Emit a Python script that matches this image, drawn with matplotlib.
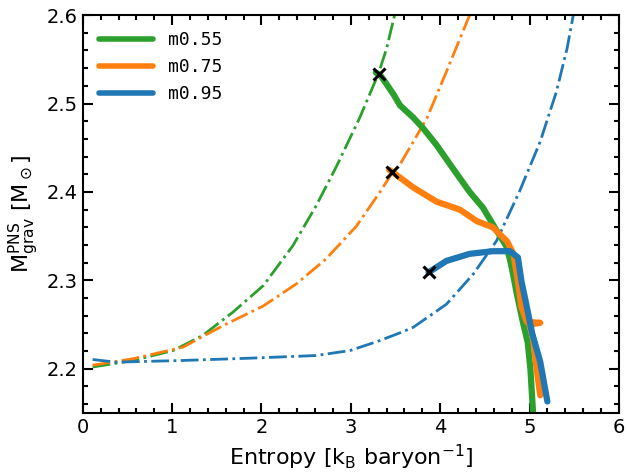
import matplotlib
matplotlib.use("Agg")
import matplotlib.pyplot as plt
from matplotlib.ticker import MultipleLocator

# equilibrium sequences (dash-dot)
s_eq_055 = [0.11, 0.56, 1.01, 1.34, 1.68, 2.02, 2.35, 2.61, 2.84, 2.93, 3.1, 3.31, 3.40, 3.49]
m_eq_055 = [2.202, 2.2093, 2.2206, 2.2375, 2.264, 2.294, 2.339, 2.384, 2.429, 2.448, 2.484, 2.534, 2.562, 2.600]

s_eq_075 = [0.11, 0.56, 1.12, 1.57, 2.02, 2.39, 2.72, 3.06, 3.32, 3.46, 3.55, 3.85, 4.07, 4.33]
m_eq_075 = [2.204, 2.2113, 2.2244, 2.2488, 2.271, 2.296, 2.324, 2.361, 2.399, 2.421, 2.431, 2.483, 2.536, 2.600]

s_eq_095 = [0.11, 0.37, 1.12, 1.87, 2.61, 2.99, 3.30, 3.56, 3.70, 4.07, 4.37, 4.63, 4.89, 5.12, 5.30, 5.42, 5.49]
m_eq_095 = [2.2105, 2.2075, 2.2094, 2.212, 2.215, 2.2206, 2.231, 2.241, 2.247, 2.273, 2.307, 2.3445, 2.401, 2.457, 2.513, 2.562, 2.600]

# simulation tracks (solid)
s_sim_055 = [3.28, 3.33, 3.40, 3.48, 3.55, 3.70, 3.81, 3.96, 4.14, 4.33, 4.48, 4.61, 4.75, 4.80, 4.86, 4.93, 4.98, 5.01, 5.04]
m_sim_055 = [2.535, 2.532, 2.522, 2.510, 2.498, 2.484, 2.472, 2.453, 2.427, 2.400, 2.382, 2.360, 2.337, 2.315, 2.284, 2.251, 2.230, 2.200, 2.150]

s_sim_075 = [3.43, 3.46, 3.70, 3.96, 4.22, 4.41, 4.59, 4.75, 4.82, 4.87, 4.91, 4.97, 5.12, 5.00, 5.04, 5.08, 5.12]
m_sim_075 = [2.425, 2.423, 2.405, 2.389, 2.380, 2.367, 2.360, 2.344, 2.330, 2.299, 2.270, 2.253, 2.252, 2.250, 2.234, 2.200, 2.170]

s_sim_095 = [3.87, 4.07, 4.33, 4.59, 4.78, 4.87, 4.91, 4.97, 5.03, 5.12, 5.20]
m_sim_095 = [2.309, 2.322, 2.330, 2.333, 2.333, 2.326, 2.299, 2.270, 2.240, 2.208, 2.163]

# onset points (crosses)
s_cross = [3.31, 3.46, 3.87]
m_cross = [2.533, 2.422, 2.309]

labels = ["m0.55", "m0.75", "m0.95"]
colors = ["#2ca02c", "#ff7f0e", "#1f77b4"]

fig = plt.figure(figsize=(6.27, 4.72), dpi=100)
ax = fig.add_axes([0.132, 0.125, 0.855, 0.843])

eq = [(s_eq_055, m_eq_055), (s_eq_075, m_eq_075), (s_eq_095, m_eq_095)]
sim = [(s_sim_055, m_sim_055), (s_sim_075, m_sim_075), (s_sim_095, m_sim_095)]

for (se, me), c in zip(eq, colors):
    ax.plot(se, me, "-.", color=c, lw=2)
for (ss, ms), c, lab in zip(sim, colors, labels):
    ax.plot(ss, ms, "-", color=c, lw=4.5, label=lab,
            solid_capstyle="round", solid_joinstyle="round")

ax.plot(s_cross, m_cross, "x", color="black", ms=8, mew=2.2, zorder=5)

ax.set_xlim(0, 6)
ax.set_ylim(2.15, 2.6)
ax.xaxis.set_major_locator(MultipleLocator(1))
ax.xaxis.set_minor_locator(MultipleLocator(0.2))
ax.yaxis.set_major_locator(MultipleLocator(0.1))
ax.yaxis.set_minor_locator(MultipleLocator(0.02))
ax.tick_params(which="both", direction="in", top=True, right=True, width=1.5)
ax.tick_params(which="major", length=7, labelsize=14)
ax.tick_params(which="minor", length=3.5)
for sp in ax.spines.values():
    sp.set_linewidth(1.5)

ax.set_xlabel(r"Entropy [k$_{\rm B}$ baryon$^{-1}$]", fontsize=16)
ax.set_ylabel(r"M$_{\rm grav}^{\rm PNS}$ [M$_\odot$]", fontsize=16)

leg = ax.legend(loc="upper left", frameon=False,
                prop={"family": "DejaVu Sans Mono", "size": 13},
                handlelength=3.0)
for line in leg.get_lines():
    line.set_linewidth(4)

fig.savefig("out.png", dpi=100)
